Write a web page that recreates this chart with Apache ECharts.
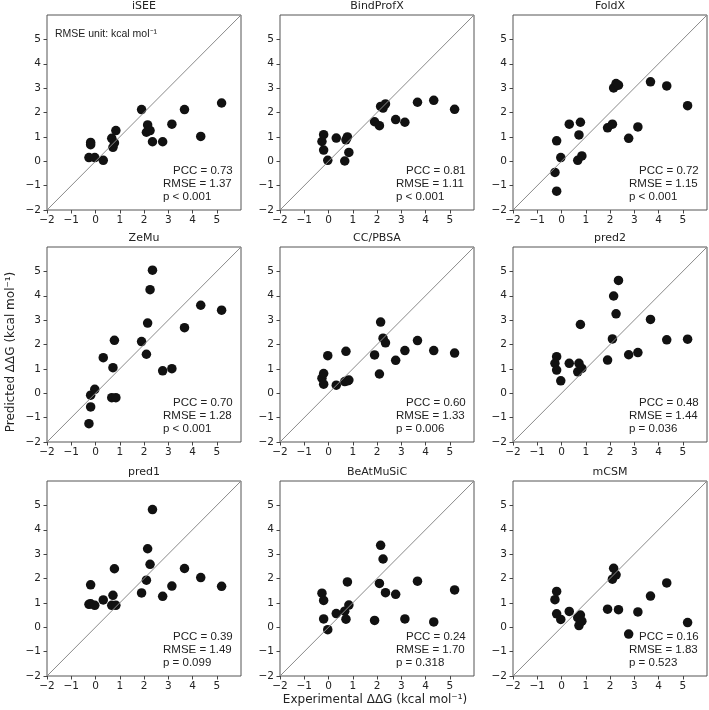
<!DOCTYPE html>
<html>
<head>
<meta charset="utf-8">
<script src="https://cdn.jsdelivr.net/npm/echarts@6.0.0/dist/echarts.min.js"></script>
<style>
  html, body { margin: 0; padding: 0; background: #fff; }
  #chart { width: 709px; height: 710px; }
</style>
</head>
<body>
<div id="chart"></div>
<script>
  // experimental ddG, shared by all nine panels
  const expX = [-0.27, -0.2, -0.2, -0.03, 0.32, 0.67, 0.72, 0.78, 0.84, 1.9, 2.1, 2.15, 2.25, 2.35, 2.77, 3.15, 3.67, 4.34, 5.2];

  const methods = ['iSEE', 'BindProfX', 'FoldX', 'ZeMu', 'CC/PBSA', 'pred2', 'pred1', 'BeAtMuSiC', 'mCSM'];

  const predISEE = [0.15, 0.77, 0.68, 0.15, 0.04, 0.94, 0.57, 0.75, 1.26, 2.12, 1.19, 1.49, 1.26, 0.8, 0.8, 1.52, 2.12, 1.02, 2.39];
  const predBindProfX = [0.81, 1.09, 0.46, 0.04, 0.95, 0.01, 0.88, 1.0, 0.36, 1.62, 1.46, 2.25, 2.18, 2.35, 1.71, 1.6, 2.42, 2.5, 2.13];
  const predFoldX = [-0.46, 0.84, -1.23, 0.15, 1.52, 0.04, 1.08, 1.6, 0.22, 1.37, 1.52, 3.01, 3.19, 3.12, 0.94, 1.41, 3.26, 3.09, 2.28];
  const predZeMu = [-1.25, -0.08, -0.56, 0.16, 1.46, -0.18, 1.05, 2.17, -0.18, 2.12, 1.6, 2.88, 4.25, 5.05, 0.92, 1.01, 2.69, 3.61, 3.41];
  const predCCPBSA = [0.62, 0.81, 0.37, 1.54, 0.33, 0.48, 1.72, 0.51, 0.54, 1.57, 0.79, 2.92, 2.26, 2.07, 1.35, 1.75, 2.16, 1.75, 1.65];
  const predPred2 = [1.23, 1.5, 0.95, 0.51, 1.23, 0.88, 1.23, 2.82, 1.02, 1.36, 2.23, 3.99, 3.26, 4.63, 1.58, 1.67, 3.03, 2.19, 2.22];
  const predPred1 = [0.94, 1.74, 0.96, 0.9, 1.12, 0.9, 1.31, 2.4, 0.9, 1.41, 1.93, 3.22, 2.58, 4.83, 1.27, 1.69, 2.41, 2.04, 1.68];
  const predBeAtMuSiC = [1.4, 1.1, 0.34, -0.1, 0.56, 0.66, 0.33, 1.86, 0.91, 0.28, 1.8, 3.36, 2.8, 1.42, 1.35, 0.34, 1.89, 0.22, 1.53];
  const predMCSM = [1.13, 1.47, 0.55, 0.32, 0.65, 0.39, 0.07, 0.5, 0.25, 0.74, 1.97, 2.42, 2.15, 0.72, -0.28, 0.63, 1.28, 1.82, 0.19];

  const predicted = [predISEE, predBindProfX, predFoldX, predZeMu, predCCPBSA, predPred2, predPred1, predBeAtMuSiC, predMCSM];

  const pccText = ['0.73', '0.81', '0.72', '0.70', '0.60', '0.48', '0.39', '0.24', '0.16'];
  const rmseText = ['1.37', '1.11', '1.15', '1.28', '1.33', '1.44', '1.49', '1.70', '1.83'];
  const pText = ['p < 0.001', 'p < 0.001', 'p < 0.001', 'p < 0.001', 'p = 0.006', 'p = 0.036', 'p = 0.099', 'p = 0.318', 'p = 0.523'];

  const tickValues = [-2, -1, 0, 1, 2, 3, 4, 5];

  const colLeft = [47, 280, 513];
  const rowTop = [15, 247, 481];
  const W = 194, H = 195;

  const fmt = v => String(v).replace('-', '\u2212');
  const tickFont = 'DejaVu Sans';

  const grids = [], xAxes = [], yAxes = [], series = [], graphics = [];

  methods.forEach((name, i) => {
    const left = colLeft[i % 3], top = rowTop[Math.floor(i / 3)];
    grids.push({
      left: left, top: top, width: W, height: H,
      show: true, borderColor: '#555', borderWidth: 1, backgroundColor: 'transparent'
    });
    xAxes.push({
      gridIndex: i, type: 'value', min: -2, max: 6, position: 'bottom',
      splitLine: { show: false },
      axisLine: { show: false, onZero: false },
      axisTick: { show: true, length: 3.5, lineStyle: { color: '#444' }, customValues: tickValues },
      axisLabel: { color: '#222', fontSize: 10.5, fontFamily: tickFont, margin: 5, customValues: tickValues, formatter: fmt }
    });
    yAxes.push({
      gridIndex: i, type: 'value', min: -2, max: 6, position: 'left',
      splitLine: { show: false },
      axisLine: { show: false, onZero: false },
      axisTick: { show: true, length: 3.5, lineStyle: { color: '#444' }, customValues: tickValues },
      axisLabel: { color: '#222', fontSize: 10.5, fontFamily: tickFont, margin: 6, customValues: tickValues, formatter: fmt }
    });
    series.push({
      type: 'scatter', xAxisIndex: i, yAxisIndex: i,
      symbolSize: 9.5,
      itemStyle: { color: '#111', opacity: 1 },
      data: expX.map((x, k) => [x, predicted[i][k]]),
      markLine: {
        silent: true, symbol: 'none', animation: false,
        label: { show: false },
        lineStyle: { color: '#8a8a8a', width: 1, type: 'solid' },
        data: [[{ coord: [-2, -2] }, { coord: [6, 6] }]]
      },
      z: 3
    });

    // panel title
    graphics.push({
      type: 'text', x: left + W / 2, y: top - 9,
      style: { text: name, font: '11px "DejaVu Sans"', fill: '#222', align: 'center', verticalAlign: 'middle', textAlign: 'center', textVerticalAlign: 'middle' }
    });
    // stats
    const bottom = top + H, right = left + W;
    const lines = [
      ['PCC = ' + pccText[i], right - 68, bottom - 39],
      ['RMSE = ' + rmseText[i], right - 78, bottom - 26],
      [pText[i], right - 78, bottom - 13]
    ];
    lines.forEach(l => {
      graphics.push({
        type: 'text', x: l[1], y: l[2], z: 10,
        style: { text: l[0], font: '11.5px "Liberation Sans"', fill: '#222', align: 'left', verticalAlign: 'middle', textAlign: 'left', textVerticalAlign: 'middle' }
      });
    });
  });

  graphics.push({
    type: 'text', x: 55, y: 34,
    style: { text: 'RMSE unit: kcal mol\u207B\u00B9', font: '10.5px "Liberation Sans"', fill: '#222', align: 'left', verticalAlign: 'middle', textAlign: 'left', textVerticalAlign: 'middle' }
  });
  graphics.push({
    type: 'text', x: 375, y: 700,
    style: { text: 'Experimental \u0394\u0394G (kcal mol\u207B\u00B9)', font: '12px "DejaVu Sans"', fill: '#222', align: 'center', verticalAlign: 'middle', textAlign: 'center', textVerticalAlign: 'middle' }
  });
  graphics.push({
    type: 'text', x: 11, y: 352, rotation: Math.PI / 2,
    style: { text: 'Predicted \u0394\u0394G (kcal mol\u207B\u00B9)', font: '12px "DejaVu Sans"', fill: '#222', align: 'center', verticalAlign: 'middle', textAlign: 'center', textVerticalAlign: 'middle' }
  });

  const chart = echarts.init(document.getElementById('chart'), null, { renderer: 'canvas' });
  chart.setOption({
    animation: false,
    backgroundColor: '#fff',
    grid: grids,
    xAxis: xAxes,
    yAxis: yAxes,
    series: series,
    graphic: graphics
  });
</script>
</body>
</html>
